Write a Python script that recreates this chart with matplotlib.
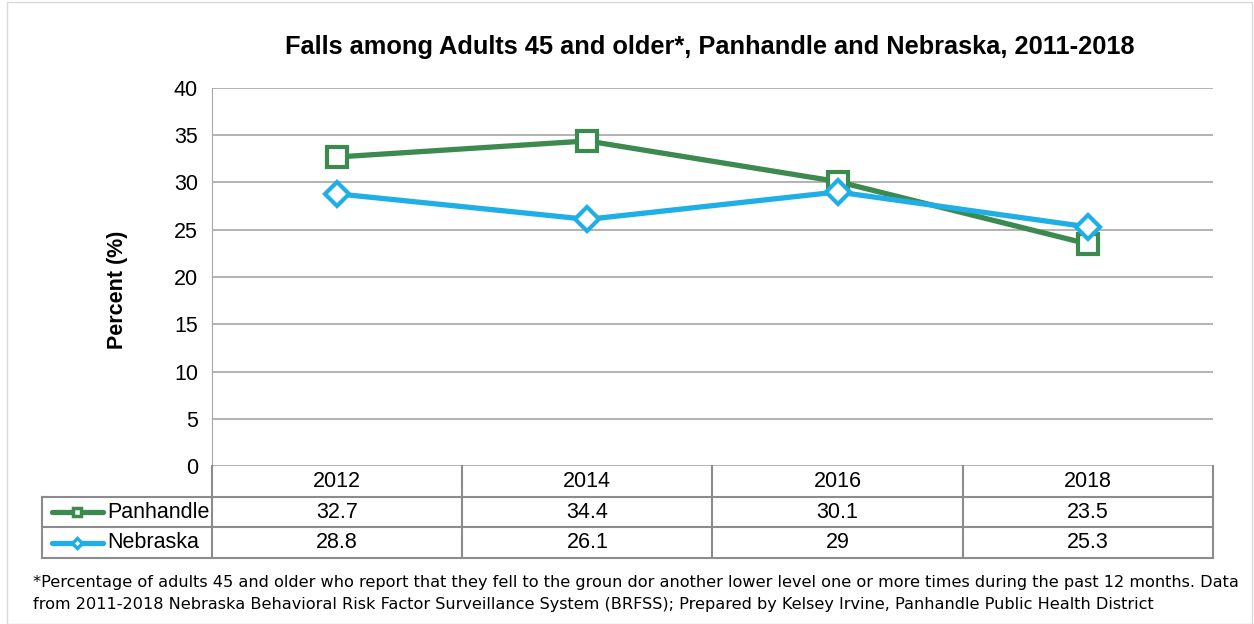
import matplotlib
matplotlib.use("Agg")
import matplotlib.pyplot as plt
from matplotlib.patches import Rectangle

plt.rcParams['font.family'] = ['Liberation Sans', 'DejaVu Sans']

years = ["2012", "2014", "2016", "2018"]
series_names = ["Panhandle", "Nebraska"]
panhandle = [32.7, 34.4, 30.1, 23.5]
nebraska = [28.8, 26.1, 29, 25.3]
panhandle_labels = ["32.7", "34.4", "30.1", "23.5"]
nebraska_labels = ["28.8", "26.1", "29", "25.3"]
yticks = [0, 5, 10, 15, 20, 25, 30, 35, 40]

green = "#3C8A50"
blue = "#1FAEE6"
gridc = "#A6A6A6"
FS = 15.5

W, H = 1254, 624
fig = plt.figure(figsize=(W / 100, H / 100), dpi=100)

fig.patches.append(Rectangle((7 / W, 0.0), (W - 9) / W, 1 - 2 / H, transform=fig.transFigure,
                             fill=False, edgecolor="#D9D9D9", linewidth=1.0))

def fx(px):
    return px / W

def fy(py):
    return 1 - py / H

x0, x1, yt, yb = 212, 1213, 88, 466
ax = fig.add_axes([fx(x0), fy(yb), fx(x1) - fx(x0), fy(yt) - fy(yb)])
ax.set_xlim(0, 4)
ax.set_ylim(0, 40)
ax.set_yticks(yticks)
ax.set_yticklabels([str(v) for v in yticks], fontsize=FS)
ax.set_xticks([])
for s in ["top", "right", "bottom"]:
    ax.spines[s].set_visible(False)
ax.spines["left"].set_color(gridc)
ax.tick_params(axis="y", length=0, pad=10)
for v in yticks:
    ax.axhline(v, color=gridc, lw=1.2, zorder=1)

xs = [i + 0.5 for i in range(len(years))]
ax.plot(xs, panhandle, color=green, lw=3.8, marker="s", markersize=14,
        markerfacecolor="white", markeredgecolor=green, markeredgewidth=3, zorder=3,
        solid_capstyle="round")
ax.plot(xs, nebraska, color=blue, lw=3.8, marker="D", markersize=12,
        markerfacecolor="white", markeredgecolor=blue, markeredgewidth=3, zorder=3,
        solid_capstyle="round")

fig.text(fx(117), fy(290), "Percent (%)", rotation=90, ha="center", va="center",
         fontsize=FS, fontweight="bold")

fig.text(fx(710), fy(47), "Falls among Adults 45 and older*, Panhandle and Nebraska, 2011-2018",
         ha="center", va="center", fontsize=18.3, fontweight="bold")

# data table
tx0 = 42
label_w = (x0 - tx0) / ((x1 - x0) / 4)
tab = fig.add_axes([fx(tx0), fy(558), fx(x1) - fx(tx0), fy(466) - fy(558)])
tab.set_xlim(-label_w, 4)
tab.set_ylim(3, 0)
tab.axis("off")
lc = "#8C8C8C"
lw = 1.5
for r in [1, 2, 3]:
    tab.plot([-label_w, 4], [r, r], color=lc, lw=lw, clip_on=False)
for c in range(5):
    tab.plot([c, c], [0, 3], color=lc, lw=lw, clip_on=False)
tab.plot([-label_w, -label_w], [1, 3], color=lc, lw=lw, clip_on=False)

for i, y in enumerate(years):
    tab.text(i + 0.5, 0.5, y, ha="center", va="center", fontsize=FS)
for i, t in enumerate(panhandle_labels):
    tab.text(i + 0.5, 1.5, t, ha="center", va="center", fontsize=FS)
for i, t in enumerate(nebraska_labels):
    tab.text(i + 0.5, 2.5, t, ha="center", va="center", fontsize=FS)

unit = (x1 - x0) / 4
def ux(px):
    return (px - x0) / unit

rows = [(series_names[0], green, "s", 6), (series_names[1], blue, "D", 5)]
for r, (name, col, mk, ms) in enumerate(rows):
    yy = 1.5 + r
    tab.plot([ux(52), ux(103)], [yy, yy], color=col, lw=3.8, solid_capstyle="round", clip_on=False)
    tab.plot([ux(77)], [yy], marker=mk, markersize=ms, markerfacecolor="white",
             markeredgecolor=col, markeredgewidth=2.5, clip_on=False)
    tab.text(ux(107), yy, name, ha="left", va="center", fontsize=FS)

fn = ["DejaVu Sans"]
fig.text(fx(33), fy(583), "*Percentage of adults 45 and older who report that they fell to the groun dor another lower level one or more times during the past 12 months. Data",
         ha="left", va="center", fontsize=11.6, family=fn)
fig.text(fx(33), fy(604), "from 2011-2018 Nebraska Behavioral Risk Factor Surveillance System (BRFSS); Prepared by Kelsey Irvine, Panhandle Public Health District",
         ha="left", va="center", fontsize=11.6, family=fn)

fig.savefig("out.png", dpi=100)
